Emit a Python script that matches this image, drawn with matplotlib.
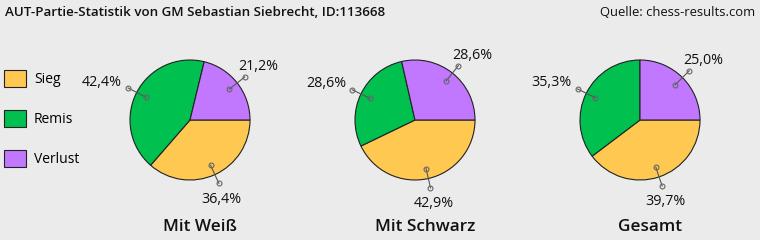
import numpy as np
import matplotlib
matplotlib.use("Agg")
import matplotlib.pyplot as plt

# Daten
kategorien = ["Sieg", "Remis", "Verlust"]
farben = ["#FFC851", "#00C04F", "#C178FF"]
titel_pies = ["Mit Weiß", "Mit Schwarz", "Gesamt"]
werte_weiss = [36.4, 42.4, 21.2]
werte_schwarz = [42.9, 28.6, 28.6]
werte_gesamt = [39.7, 35.3, 25.0]
alle_werte = [werte_weiss, werte_schwarz, werte_gesamt]

W, H = 760, 240
bg = "#EBEBEB"
fig = plt.figure(figsize=(W / 100, H / 100), dpi=100, facecolor=bg)
plt.rcParams["font.family"] = ["Open Sans", "DejaVu Sans"]

fig.text(5 / W, 1 - 13 / H, "AUT-Partie-Statistik von GM Sebastian Siebrecht, ID:113668",
         fontsize=9.6, fontweight="semibold", va="center", ha="left", color="#111111")
fig.text(755 / W, 1 - 13 / H, "Quelle: chess-results.com",
         fontsize=9.4, va="center", ha="right", color="#111111")

zentren_x = [190, 415, 640]
half = 84  # Achsen-Halbbreite in Pixel (1.4 * Radius 60)
wedges_ref = None
for i, (werte, cx) in enumerate(zip(alle_werte, zentren_x)):
    ax = fig.add_axes([(cx - half) / W, (120 - half) / H, 2 * half / W, 2 * half / H])
    ax.set_facecolor(bg)
    wedges, _ = ax.pie(werte, colors=farben, startangle=0, counterclock=False, radius=1,
                       wedgeprops=dict(edgecolor="#222222", linewidth=0.8))
    ax.set_xlim(-1.4, 1.4)
    ax.set_ylim(-1.4, 1.4)
    ax.set_aspect("equal")
    ax.axis("off")
    if wedges_ref is None:
        wedges_ref = wedges
    for w, v in zip(wedges, werte):
        mid = np.deg2rad((w.theta1 + w.theta2) / 2)
        c, s = np.cos(mid), np.sin(mid)
        ax.plot([0.83 * c, 1.16 * c], [0.83 * s, 1.16 * s], color="#555555", lw=0.8,
                marker="o", ms=3.5, mfc="none", mec="#666666", mew=0.8, clip_on=False)
        txt = f"{v:.1f}%".replace(".", ",")
        if s < -0.6:
            off, ha = (3, -16), "center"
        elif c < 0:
            off, ha = (-6, 6), "right"
        else:
            off, ha = (14, 10), "center"
        ax.annotate(txt, (1.16 * c, 1.16 * s), xytext=off, textcoords="offset pixels",
                    ha=ha, va="center", fontsize=10.3, color="#111111", annotation_clip=False)
    fig.text((cx + 10) / W, 1 - 227 / H, titel_pies[i], fontsize=12.3, fontweight="semibold",
             ha="center", va="center", color="#111111")

fig.legend(wedges_ref, kategorien, loc="upper left", bbox_to_anchor=(4 / W, 1 - 70 / H),
           frameon=False, fontsize=10, handlelength=1.55, handleheight=1.55,
           labelspacing=1.62, handletextpad=0.6, borderpad=0, borderaxespad=0)

fig.savefig("out.png", dpi=100, facecolor=bg)
